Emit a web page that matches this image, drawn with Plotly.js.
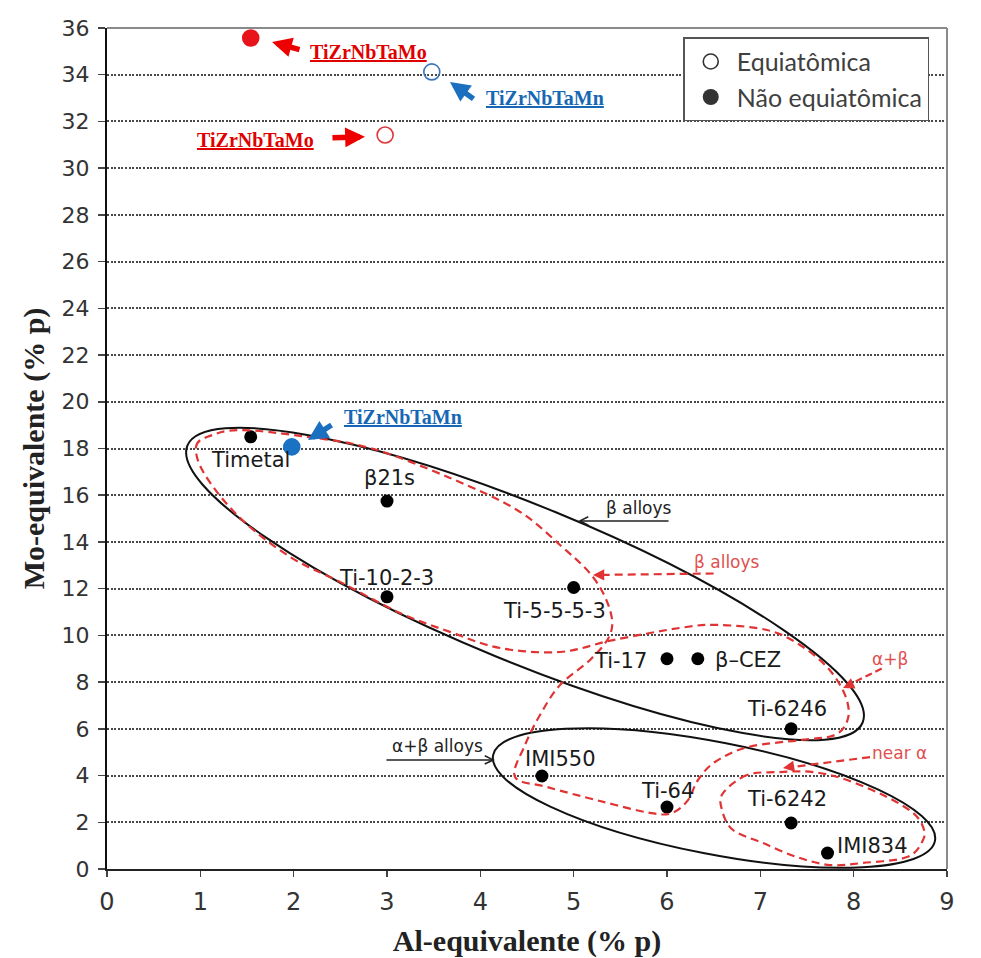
<!DOCTYPE html>
<html>
<head>
<meta charset="utf-8">
<script src="https://cdn.plot.ly/plotly-3.0.1.min.js"></script>
<style>html,body{margin:0;padding:0;background:#fff;}#chart{width:981px;height:958px;}</style>
</head>
<body>
<div id="chart"></div>
<script>
// ---------- data ----------
const alloyNames = ['Timetal', 'β21s', 'Ti-10-2-3', 'Ti-5-5-5-3', 'Ti-17', 'β–CEZ', 'Ti-6246', 'IMI550', 'Ti-64', 'Ti-6242', 'IMI834'];
const alloyAl = [1.54, 3.0, 3.0, 5.0, 6.0, 6.33, 7.33, 4.66, 6.0, 7.33, 7.72];
const alloyMo = [18.5, 15.75, 11.65, 12.05, 9.0, 9.0, 6.0, 3.98, 2.65, 1.97, 0.68];

const heaNames = ['TiZrNbTaMo', 'TiZrNbTaMn', 'TiZrNbTaMo', 'TiZrNbTaMn'];
const heaAl = [1.54, 3.48, 2.98, 1.98];
const heaMo = [35.57, 34.12, 31.42, 18.07];
const heaKind = ['Não equiatômica', 'Equiatômica', 'Equiatômica', 'Não equiatômica'];

const legendNames = ['Equiatômica', 'Não equiatômica'];
const xTickVals = [0, 1, 2, 3, 4, 5, 6, 7, 8, 9];
const yTickVals = [0, 2, 4, 6, 8, 10, 12, 14, 16, 18, 20, 22, 24, 26, 28, 30, 32, 34, 36];

// ---------- region outlines (data coordinates) ----------
const betaEllipse = {c: [4.479, 12.20], u: [3.617, -5.929], v: [0.317, 3.091]};
const abEllipse = {c: [6.504, 3.039], u: [2.367, -1.836], v: [0.1146, 2.354]};

const redLoopX = [0.954, 1.104, 1.425, 2.068, 2.818, 3.675, 4.393, 4.854, 5.207, 5.389, 5.389, 5.175, 4.854, 4.639, 4.479, 4.372, 4.714, 5.282, 5.818, 6.054, 6.225, 6.332, 6.514, 6.868, 7.425, 7.800, 7.940, 7.907, 7.725, 7.425, 7.072, 6.536, 6.139, 5.422, 4.854, 4.211, 3.675, 3.139, 2.496, 1.961, 1.425, 1.050];
const redLoopY = [18.07, 18.54, 18.79, 18.54, 18.02, 16.74, 15.37, 13.87, 12.50, 11.09, 10.02, 8.95, 7.88, 6.59, 5.31, 3.94, 3.51, 2.91, 2.40, 2.40, 2.95, 3.81, 4.58, 5.22, 5.52, 5.74, 6.46, 7.45, 8.60, 9.59, 10.23, 10.45, 10.32, 9.80, 9.29, 9.46, 10.15, 10.96, 12.29, 13.36, 15.03, 16.87];
const nearAlphaX = [6.857, 6.600, 6.589, 6.707, 7.029, 7.393, 7.747, 8.100, 8.572, 8.743, 8.743, 8.636, 8.357, 7.929, 7.565, 7.211];
const nearAlphaY = [4.02, 3.25, 2.53, 1.67, 1.11, 0.51, 0.17, 0.26, 0.51, 1.24, 1.80, 2.40, 3.08, 3.81, 4.15, 4.15];

// ---------- helpers ----------
function ellipsePath(e) {
  const k = 0.5523, c = e.c, u = e.u, v = e.v;
  const P = (a, b) => [c[0] + a * u[0] + b * v[0], c[1] + a * u[1] + b * v[1]];
  const f = p => p[0].toFixed(4) + ',' + p[1].toFixed(4);
  let d = 'M' + f(P(1, 0));
  d += ' C' + f(P(1, k)) + ' ' + f(P(k, 1)) + ' ' + f(P(0, 1));
  d += ' C' + f(P(-k, 1)) + ' ' + f(P(-1, k)) + ' ' + f(P(-1, 0));
  d += ' C' + f(P(-1, -k)) + ' ' + f(P(-k, -1)) + ' ' + f(P(0, -1));
  d += ' C' + f(P(k, -1)) + ' ' + f(P(1, -k)) + ' ' + f(P(1, 0));
  return d + ' Z';
}
function closedSpline(xs, ys) {
  const n = xs.length;
  const f = (a, b) => a.toFixed(4) + ',' + b.toFixed(4);
  let d = 'M' + f(xs[0], ys[0]);
  for (let i = 0; i < n; i++) {
    const i0 = (i - 1 + n) % n, i1 = i, i2 = (i + 1) % n, i3 = (i + 2) % n;
    const c1x = xs[i1] + (xs[i2] - xs[i0]) / 6, c1y = ys[i1] + (ys[i2] - ys[i0]) / 6;
    const c2x = xs[i2] - (xs[i3] - xs[i1]) / 6, c2y = ys[i2] - (ys[i3] - ys[i1]) / 6;
    d += ' C' + f(c1x, c1y) + ' ' + f(c2x, c2y) + ' ' + f(xs[i2], ys[i2]);
  }
  return d + ' Z';
}

// ---------- styles ----------
const RED = '#e8141b', BLUE = '#1a72c2', DRED = '#e03434', LRED = '#e05050';
const heaSymbols = ['circle', 'circle-open', 'circle-open', 'circle'];
const heaColors = [RED, '#3b74bd', '#e0353d', BLUE];
const heaLabelColors = ['#e00000', '#1668b4', '#e00000', '#1668b4'];
const heaLabelPos = [[2.807, 34.97], [4.693, 33.0], [1.586, 31.21], [3.172, 19.35]];
const heaArrowHead = [[1.768, 35.40], [3.675, 33.69], [2.764, 31.34], [2.154, 18.36]];
const heaArrowTail = [[29, 8], [25, 18], [-34, 1], [25, -16]];

const labelFont = {family: 'DejaVu Sans', size: 21, color: '#1a1a1a'};
const labelPlace = [
  {dx: 0, dy: -23, anchor: 'center'}, {dx: 2, dy: 23, anchor: 'center'}, {dx: -1, dy: 19, anchor: 'center'},
  {dx: -19, dy: -23, anchor: 'center'}, {dx: -18, dy: -2, anchor: 'right'}, {dx: 15, dy: -1, anchor: 'left'},
  {dx: -4, dy: 20, anchor: 'center'}, {dx: 19, dy: 17, anchor: 'center'}, {dx: 0, dy: 16, anchor: 'center'},
  {dx: -4, dy: 24, anchor: 'center'}, {dx: 7, dy: 7, anchor: 'left'}
];

// ---------- traces ----------
const traces = [
  {x: alloyAl, y: alloyMo, text: alloyNames, mode: 'markers', type: 'scatter', showlegend: false,
   marker: {size: 13, color: '#000'}, hoverinfo: 'text'},
  {x: heaAl, y: heaMo, text: heaNames, mode: 'markers', type: 'scatter', showlegend: false,
   marker: {size: 16, symbol: heaSymbols, color: heaColors, line: {width: 1.6, color: heaColors}}, hoverinfo: 'text'},
  {x: [null], y: [null], mode: 'markers', type: 'scatter', name: legendNames[0],
   marker: {size: 15, symbol: 'circle-open', color: '#333', line: {width: 1.6}}},
  {x: [null], y: [null], mode: 'markers', type: 'scatter', name: legendNames[1],
   marker: {size: 16, symbol: 'circle', color: '#333'}}
];

// ---------- shapes ----------
const redDash = {color: DRED, width: 2.2, dash: '8px,5px'};
const shapes = [
  {type: 'path', xref: 'x', yref: 'y', path: ellipsePath(betaEllipse), line: {color: '#111', width: 2}},
  {type: 'path', xref: 'x', yref: 'y', path: ellipsePath(abEllipse), line: {color: '#111', width: 2}},
  {type: 'path', xref: 'x', yref: 'y', path: closedSpline(redLoopX, redLoopY), line: redDash},
  {type: 'path', xref: 'x', yref: 'y', path: closedSpline(nearAlphaX, nearAlphaY), line: redDash},
  {type: 'line', xref: 'x', yref: 'y', x0: 6.50, y0: 12.65, x1: 5.30, y1: 12.59, line: redDash},
  {type: 'line', xref: 'x', yref: 'y', x0: 8.30, y0: 8.58, x1: 7.98, y1: 7.95, line: {color: DRED, width: 2.2, dash: '7px,4px'}},
  {type: 'line', xref: 'x', yref: 'y', x0: 8.175, y0: 4.79, x1: 7.33, y1: 4.36, line: redDash},
  {type: 'line', xref: 'paper', yref: 'paper', x0: 0, x1: 1, y0: 1, y1: 1, line: {color: '#8a8a8a', width: 2}},
  {type: 'line', xref: 'paper', yref: 'paper', x0: 1, x1: 1, y0: 0, y1: 1, line: {color: '#8a8a8a', width: 2}}
];

// ---------- annotations ----------
const annotations = [];
alloyNames.forEach((n, i) => {
  const p = labelPlace[i];
  annotations.push({x: alloyAl[i], y: alloyMo[i], text: n, showarrow: false, font: labelFont,
    xanchor: p.anchor, yanchor: 'middle', xshift: p.dx, yshift: p.dy});
});
heaNames.forEach((n, i) => {
  annotations.push({x: heaLabelPos[i][0], y: heaLabelPos[i][1], text: '<b><u>' + n + '</u></b>', showarrow: false,
    font: {family: 'Liberation Serif', size: 20, color: heaLabelColors[i]}});
  annotations.push({x: heaArrowHead[i][0], y: heaArrowHead[i][1], ax: heaArrowTail[i][0], ay: heaArrowTail[i][1],
    text: '', showarrow: true, arrowhead: 2, arrowsize: 0.72, arrowwidth: 5.5,
    arrowcolor: heaLabelColors[i] === '#e00000' ? '#ee0000' : '#1a6fbf', standoff: 0});
});
const smallFont = {family: 'DejaVu Sans', size: 17, color: '#222'};
const redFont = {family: 'DejaVu Sans', size: 17, color: LRED};
annotations.push({x: 5.047, y: 14.90, ax: 92, ay: 0, text: '', showarrow: true, arrowhead: 5, arrowsize: 1.1, arrowwidth: 1.5, arrowcolor: '#222', standoff: 0});
annotations.push({x: 5.047, y: 14.90, text: 'β alloys', showarrow: false, font: smallFont, xanchor: 'left', yanchor: 'bottom', xshift: 26, yshift: 1});
annotations.push({x: 4.157, y: 4.67, ax: -110, ay: 0, text: '', showarrow: true, arrowhead: 5, arrowsize: 1.1, arrowwidth: 1.5, arrowcolor: '#222', standoff: 0});
annotations.push({x: 4.157, y: 4.67, text: 'α+β alloys', showarrow: false, font: smallFont, xanchor: 'right', yanchor: 'bottom', xshift: -10, yshift: 2});
annotations.push({x: 5.207, y: 12.59, ax: 12, ay: 0, text: '', showarrow: true, arrowhead: 2, arrowsize: 1.4, arrowwidth: 1.6, arrowcolor: DRED, standoff: 0});
annotations.push({x: 6.27, y: 12.62, text: 'β alloys', showarrow: false, font: redFont, xanchor: 'left', yanchor: 'bottom'});
annotations.push({x: 7.886, y: 7.75, ax: 11, ay: -5, text: '', showarrow: true, arrowhead: 2, arrowsize: 1.4, arrowwidth: 1.6, arrowcolor: DRED, standoff: 0});
annotations.push({x: 8.39, y: 9.0, text: 'α+β', showarrow: false, font: redFont});
annotations.push({x: 7.243, y: 4.32, ax: 12, ay: -2, text: '', showarrow: true, arrowhead: 2, arrowsize: 1.4, arrowwidth: 1.6, arrowcolor: DRED, standoff: 0});
annotations.push({x: 8.175, y: 4.95, text: 'near α', showarrow: false, font: redFont, xanchor: 'left'});

// ---------- layout ----------
const NB = '\u00a0';
const layout = {
  width: 981, height: 958,
  margin: {l: 107, r: 34, t: 28, b: 89},
  paper_bgcolor: '#fff', plot_bgcolor: '#fff',
  showlegend: true,
  legend: {x: 0.686, y: 0.989, xanchor: 'left', yanchor: 'top', bgcolor: '#fff', bordercolor: '#555', borderwidth: 1.5,
    font: {family: 'Lato', size: 25, color: '#404040'}, tracegroupgap: 0, itemwidth: 42},
  xaxis: {range: [0, 9], tickvals: xTickVals, showgrid: false, zeroline: false, showline: true, linecolor: '#222', linewidth: 2,
    ticks: 'outside', ticklen: 6, tickwidth: 1.5, tickcolor: '#444', ticklabelstandoff: 4,
    tickfont: {family: 'DejaVu Sans', size: 24, color: '#333'},
    title: {text: '<b>Al-equivalente (% p)</b>' + NB.repeat(6), font: {family: 'Liberation Serif', size: 30, color: '#222'}, standoff: 16}},
  yaxis: {range: [0, 36], tickvals: yTickVals, showgrid: true, gridcolor: '#484848', gridwidth: 2, griddash: '2px,1.6px',
    zeroline: false, showline: true, linecolor: '#111', linewidth: 2,
    ticks: 'outside', ticklen: 7, tickwidth: 1.5, tickcolor: '#444', ticklabelstandoff: 4,
    tickfont: {family: 'DejaVu Sans', size: 22, color: '#333'},
    title: {text: '<b>Mo-equivalente (% p)</b>', font: {family: 'Liberation Serif', size: 30, color: '#222'}, standoff: 8}},
  shapes: shapes,
  annotations: annotations
};

Plotly.newPlot('chart', traces, layout, {displayModeBar: false, staticPlot: true});
</script>
</body>
</html>
